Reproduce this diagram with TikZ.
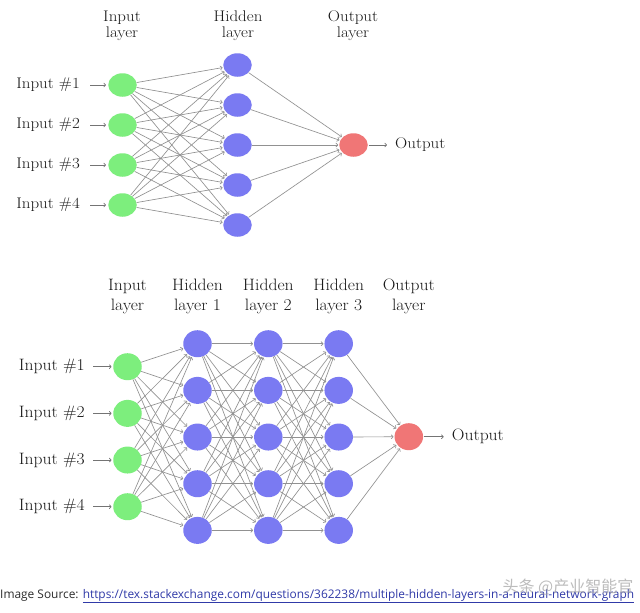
\documentclass[tikz,border=0pt]{standalone}
\usepackage{fontspec}
\newfontfamily\srcfont{Open Sans}
\newfontfamily\cjkfont{Noto Sans CJK SC}
\newfontfamily\lmtop{Latin Modern Roman}[FakeStretch=1.1]
\newfontfamily\lmbot{Latin Modern Roman}[FakeStretch=1.065]
\usetikzlibrary{arrows.meta,shapes.geometric}
\definecolor{ngreen}{RGB}{125,238,125}
\definecolor{nblue}{RGB}{122,122,242}
\definecolor{nred}{RGB}{240,118,118}
\definecolor{edgegray}{RGB}{145,145,145}
\definecolor{linkblue}{RGB}{48,58,168}
\definecolor{srcgray}{RGB}{45,45,45}
\begin{document}
\begin{tikzpicture}[x=1pt,y=-1pt,
  neuron/.style={ellipse, inner sep=0pt, draw=none},
  topneuron/.style={neuron, minimum width=28.5pt, minimum height=23.5pt},
  botneuron/.style={neuron, minimum width=28.5pt, minimum height=27pt},
  conn/.style={draw=edgegray, line width=0.65pt, -{To[length=2.6pt,width=4.6pt]}, shorten >=0.8pt},
  pinarrow/.style={draw=edgegray!80!black, line width=0.7pt, -{To[length=2.6pt,width=4.6pt]}},
  toptext/.style={font=\lmtop\fontsize{15.4}{16}\selectfont, inner sep=0pt, text=black!90},
  bottext/.style={font=\lmbot\fontsize{16.5}{19.5}\selectfont, inner sep=0pt, text=black!90},
]
\useasboundingbox[fill=white] (0,0) rectangle (640,613);

% ---------------- top network ----------------
\node[toptext, align=center, anchor=base] (th1) at (122,37.5) {Input\\layer};
\node[toptext, align=center, anchor=base] (th2) at (238,37.5) {Hidden\\layer};
\node[toptext, align=center, anchor=base] (th3) at (353,37.5) {Output\\layer};

\foreach \i/\y in {1/85,2/125,3/165,4/205}{
  \node[topneuron, fill=ngreen] (TI\i) at (122.5,\y) {};
  \node[toptext, anchor=east] (TL\i) at (80,\y) {Input \#\i};
  \draw[pinarrow, shorten <=10pt, shorten >=2pt] (TL\i) -- (TI\i);
}
\foreach \j/\y in {1/65,2/105,3/145,4/185,5/225}
  \node[topneuron, fill=nblue] (TH\j) at (237.5,\y) {};
\node[topneuron, fill=nred] (TO) at (353.5,145) {};
\node[toptext, anchor=west] (TOL) at (395,145) {Output};
\draw[pinarrow, shorten <=1pt, shorten >=8pt] (TO) -- (TOL);

\foreach \i in {1,...,4}
  \foreach \j in {1,...,5}
    \draw[conn] (TI\i) -- (TH\j);
\foreach \j in {1,...,5}
  \draw[conn] (TH\j) -- (TO);

% ---------------- bottom network ----------------
\node[bottext, align=center, anchor=base] (bh1) at (127.5,310) {Input\\layer};
\node[bottext, align=center, anchor=base] (bh2) at (197.5,310) {Hidden\\layer 1};
\node[bottext, align=center, anchor=base] (bh3) at (268.3,310) {Hidden\\layer 2};
\node[bottext, align=center, anchor=base] (bh4) at (338.7,310) {Hidden\\layer 3};
\node[bottext, align=center, anchor=base] (bh5) at (408.8,310) {Output\\layer};

\foreach \i in {1,...,4}{
  \pgfmathsetmacro\yy{366.7+46.67*(\i-1)}
  \node[botneuron, fill=ngreen] (BI\i) at (127.5,\yy) {};
  \node[bottext, anchor=east] (BL\i) at (85,\yy) {Input \#\i};
  \draw[pinarrow, shorten <=8pt, shorten >=1.5pt] (BL\i) -- (BI\i);
}
\foreach \l/\x in {1/197.5,2/268.3,3/338.7}
  \foreach \j in {1,...,5}{
    \pgfmathsetmacro\yy{343.7+46.67*(\j-1)}
    \node[botneuron, fill=nblue] (B\l H\j) at (\x,\yy) {};
  }
\node[botneuron, fill=nred] (BO) at (408.8,436.7) {};
\node[bottext, anchor=west] (BOL) at (451.7,436.7) {Output};
\draw[pinarrow, shorten <=1pt, shorten >=8pt] (BO) -- (BOL);

\foreach \i in {1,...,4}
  \foreach \j in {1,...,5}
    \draw[conn] (BI\i) -- (B1H\j);
\foreach \i in {1,...,5}
  \foreach \j in {1,...,5}{
    \draw[conn] (B1H\i) -- (B2H\j);
    \draw[conn] (B2H\i) -- (B3H\j);
  }
\foreach \j in {1,...,5}
  \draw[conn] (B3H\j) -- (BO);

% ---------------- footer ----------------
\node[anchor=base west, inner sep=0pt, font=\srcfont\fontsize{11.9}{13}\selectfont, text=srcgray] (src) at (0,598)
  {Image Source: \textcolor{linkblue}{\underline{https://tex.stackexchange.com/questions/362238/multiple-hidden-layers-in-a-neural-network-graph}}};
\node[inner sep=0pt, font=\cjkfont\fontsize{16}{16}\selectfont, text=gray!70, opacity=0.75] (wm) at (568,587) {头条 @产业智能官};
\end{tikzpicture}
\end{document}
